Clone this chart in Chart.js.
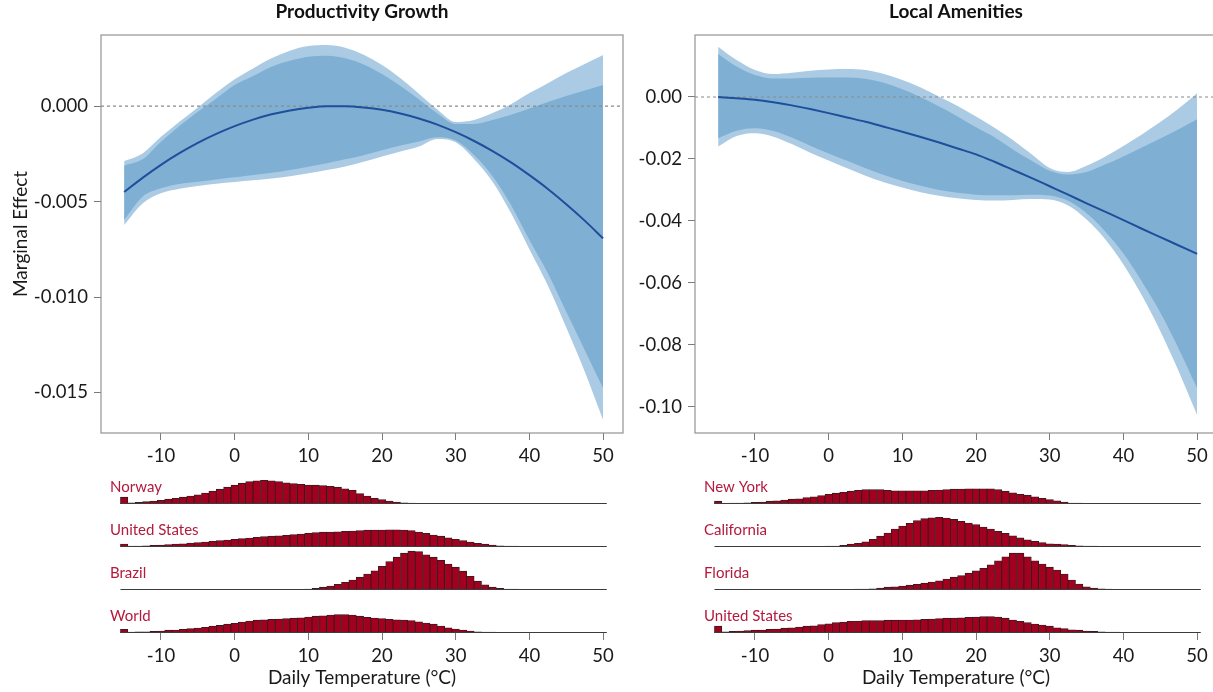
<!DOCTYPE html>
<html>
<head>
<meta charset="utf-8">
<script src="https://cdn.jsdelivr.net/npm/chart.js@4.4.1/dist/chart.umd.min.js"></script>
<style>
  html, body { margin: 0; padding: 0; background: #fff; }
  body { width: 1213px; height: 692px; overflow: hidden; position: relative; }
  canvas { position: absolute; }
</style>
</head>
<body>
<canvas id="prodMain" width="640" height="470" style="left:0;top:0"></canvas>
<canvas id="amenMain" width="634" height="470" style="left:600px;top:0"></canvas>
<canvas id="hNorway" width="640" height="42" style="left:0;top:462px"></canvas>
<canvas id="hUsLeft" width="640" height="42" style="left:0;top:505px"></canvas>
<canvas id="hBrazil" width="640" height="42" style="left:0;top:548px"></canvas>
<canvas id="hWorld" width="640" height="101" style="left:0;top:591px"></canvas>
<canvas id="hNewYork" width="634" height="42" style="left:600px;top:462px"></canvas>
<canvas id="hCalifornia" width="634" height="42" style="left:600px;top:505px"></canvas>
<canvas id="hFlorida" width="634" height="42" style="left:600px;top:548px"></canvas>
<canvas id="hUsRight" width="634" height="101" style="left:600px;top:591px"></canvas>
<script>
// temperature grid of the marginal-effect curves (°C)
const temps = [-15,-12.5,-10,-7.5,-5,-2.5,0,2.5,5,7.5,10,12.5,15,17.5,20,22.5,25,27.5,30,32.5,35,37.5,40,42.5,45,47.5,50];

// Productivity Growth
const prodMean    = [-0.0045,-0.00376,-0.00308,-0.00247,-0.00193,-0.00146,-0.00105,-0.00071,-0.00043,-0.00023,-0.00009,-0.00001,-0.00001,-0.00007,-0.00019,-0.00039,-0.00065,-0.00097,-0.00137,-0.00183,-0.00236,-0.00295,-0.00362,-0.00434,-0.00514,-0.006,-0.00693];
const prodInnerHi = [-0.00312,-0.00279,-0.00187,-0.00105,-0.0003,0.0004,0.0011,0.00157,0.00206,0.00237,0.00258,0.00263,0.0025,0.00218,0.00168,0.00105,0.00035,-0.00038,-0.00094,-0.00094,-0.00073,-0.00045,-0.00013,0.00021,0.00052,0.00081,0.0011];
const prodInnerLo = [-0.00597,-0.00475,-0.00431,-0.00408,-0.00396,-0.00384,-0.00373,-0.00361,-0.00349,-0.00335,-0.00318,-0.003,-0.00279,-0.00257,-0.00232,-0.00207,-0.00185,-0.00163,-0.0018,-0.00257,-0.00367,-0.00518,-0.00702,-0.00876,-0.01077,-0.01277,-0.01478];
const prodOuterHi = [-0.00288,-0.00248,-0.00161,-0.00082,-0.00007,0.0007,0.0014,0.00197,0.0025,0.0029,0.00314,0.00319,0.00305,0.00268,0.00215,0.00145,0.00065,-0.00018,-0.00084,-0.00073,-0.00037,0.0001,0.00068,0.0012,0.00173,0.0022,0.00267];
const prodOuterLo = [-0.00623,-0.0051,-0.00457,-0.00433,-0.00419,-0.00407,-0.00398,-0.00389,-0.0038,-0.00368,-0.00352,-0.00335,-0.00316,-0.00292,-0.00264,-0.00238,-0.00212,-0.00172,-0.0019,-0.00278,-0.00396,-0.0056,-0.0075,-0.0094,-0.0116,-0.0139,-0.01644];

// Local Amenities
const amenMean    = [0,-0.0004,-0.0009,-0.0017,-0.0027,-0.0039,-0.0052,-0.0066,-0.008,-0.0096,-0.0112,-0.0129,-0.0147,-0.0166,-0.0185,-0.0209,-0.0235,-0.0261,-0.0288,-0.0315,-0.0343,-0.037,-0.0397,-0.0425,-0.0452,-0.0479,-0.0506];
const amenInnerHi = [0.0139,0.0098,0.0071,0.006,0.006,0.0062,0.0063,0.0063,0.0059,0.0046,0.0025,-0.0001,-0.0031,-0.0063,-0.0098,-0.013,-0.0169,-0.0205,-0.0238,-0.025,-0.0242,-0.0218,-0.0192,-0.0163,-0.0134,-0.0104,-0.0072];
const amenInnerLo = [-0.0133,-0.0109,-0.0101,-0.011,-0.0131,-0.0157,-0.0182,-0.0206,-0.023,-0.0252,-0.0271,-0.0286,-0.03,-0.0309,-0.0315,-0.0317,-0.0317,-0.0315,-0.0318,-0.0335,-0.0375,-0.0433,-0.0505,-0.0595,-0.0695,-0.0812,-0.094];
const amenOuterHi = [0.0162,0.0119,0.0087,0.0074,0.0078,0.0085,0.0089,0.009,0.0087,0.0074,0.0055,0.0031,0.0001,-0.0029,-0.0063,-0.0099,-0.0139,-0.0184,-0.0229,-0.0242,-0.0222,-0.0193,-0.0158,-0.0121,-0.0081,-0.0037,0.0012];
const amenOuterLo = [-0.016,-0.0126,-0.0117,-0.0128,-0.0152,-0.018,-0.0205,-0.023,-0.0254,-0.0275,-0.0292,-0.0307,-0.0319,-0.0327,-0.0332,-0.0334,-0.0332,-0.0329,-0.0331,-0.035,-0.0395,-0.0458,-0.054,-0.064,-0.0755,-0.0885,-0.1026];

// tick labels
const xTicks = [-10,0,10,20,30,40,50];
const prodTicks = [0,-0.005,-0.01,-0.015];
const amenTicks = [0,-0.02,-0.04,-0.06,-0.08,-0.1];

// daily temperature distributions, % of days per 1°C bin
const bins = [-15,-14,-13,-12,-11,-10,-9,-8,-7,-6,-5,-4,-3,-2,-1,0,1,2,3,4,5,6,7,8,9,10,11,12,13,14,15,16,17,18,19,20,21,22,23,24,25,26,27,28,29,30,31,32,33,34,35,36,37,38,39,40,41,42,43,44,45,46,47,48,49,50];
const norway = [1.7,0.3,0.4,0.6,0.75,0.9,1.2,1.4,1.7,2.0, 2.3,2.75,3.2,3.7,4.2,4.7,5.2,5.6,5.8,5.9, 5.8,5.6,5.3,5.1,4.9,4.75,4.7,4.6,4.4,4.2, 3.8,3.4,2.6,2.0,1.4,1.1,0.75,0.5,0.3,0.2, 0.1,0.05,0.03,0,0,0,0,0,0,0, 0,0,0,0,0,0,0,0,0,0, 0,0,0,0,0,0];
const usLeft = [0.75,0.2,0.25,0.3,0.4,0.5,0.6,0.75,0.8,1.0, 1.1,1.25,1.4,1.6,1.75,1.9,2.1,2.25,2.4,2.6, 2.7,2.8,2.9,3.1,3.25,3.4,3.6,3.7,3.75,3.8, 3.9,4.0,4.1,4.2,4.25,4.25,4.3,4.3,4.25,4.1, 3.75,3.4,3.0,2.7,2.3,1.9,1.6,1.25,0.9,0.7, 0.5,0.3,0.25,0.2,0.1,0.05,0.03,0,0,0, 0,0,0,0,0,0];
const brazil = [0,0,0,0,0,0,0,0,0,0, 0,0,0,0,0,0,0,0,0,0, 0,0.03,0.05,0.1,0.15,0.25,0.4,0.7,1.0,1.4, 1.9,2.5,3.2,4.0,4.8,5.9,7.1,8.2,9.2,9.7, 9.6,8.8,8.2,7.4,6.5,5.7,4.7,3.4,2.2,1.3, 0.75,0.4,0.25,0.2,0.08,0.05,0,0,0,0, 0,0,0,0,0,0];
const world = [0.9,0.25,0.3,0.3,0.4,0.5,0.7,0.75,0.9,1.1, 1.25,1.4,1.7,1.9,2.2,2.4,2.75,3.0,3.2,3.3, 3.4,3.5,3.6,3.7,3.8,4.0,4.2,4.3,4.5,4.6, 4.6,4.5,4.2,3.9,3.75,3.6,3.4,3.3,3.25,3.1, 2.8,2.5,2.2,1.75,1.3,1.0,0.75,0.5,0.3,0.25, 0.2,0.12,0.08,0.05,0.03,0,0,0,0,0, 0,0,0,0,0,0];
const newYork = [0.7,0.08,0.2,0.25,0.3,0.4,0.5,0.7,0.8,1.0, 1.2,1.3,1.6,1.8,2.1,2.4,2.7,2.9,3.2,3.4, 3.6,3.6,3.6,3.4,3.3,3.3,3.3,3.3,3.3,3.4, 3.5,3.6,3.7,3.75,3.8,3.8,3.8,3.8,3.6,3.2, 2.8,2.4,2.2,1.8,1.4,1.1,0.8,0.5,0.25,0.2, 0.1,0.05,0.03,0,0,0,0,0,0,0, 0,0,0,0,0,0];
const california = [0,0,0,0,0,0,0,0,0,0, 0,0,0.03,0.05,0.08,0.2,0.25,0.4,0.7,0.9, 1.3,1.9,2.7,3.5,4.5,5.25,5.9,6.6,7.1,7.3, 7.4,7.25,6.9,6.4,6.0,5.6,5.0,4.5,3.9,3.4, 2.8,2.3,1.8,1.4,1.1,0.8,0.7,0.6,0.4,0.3, 0.25,0.2,0.1,0.08,0.05,0.03,0,0,0,0, 0,0,0,0,0,0];
const florida = [0,0,0,0,0,0,0,0,0,0, 0,0,0,0,0,0,0,0,0.08,0.2, 0.25,0.3,0.5,0.7,0.8,1.0,1.2,1.4,1.7,2.0, 2.3,2.75,3.2,3.6,4.2,4.8,5.4,6.3,7.3,8.3, 9.2,9.2,8.3,7.3,6.5,5.7,5.0,4.0,2.5,1.5, 0.8,0.5,0.3,0.2,0.08,0.05,0.03,0,0,0, 0,0,0,0,0,0];
const usRight = [1.7,0.3,0.4,0.5,0.6,0.7,0.75,0.9,1.0,1.2, 1.3,1.5,1.7,1.8,2.1,2.3,2.6,2.75,2.9,3.0, 3.1,3.1,3.1,3.2,3.2,3.25,3.25,3.3,3.4,3.5, 3.6,3.7,3.75,3.8,3.9,4.0,4.1,4.1,4.0,3.7, 3.25,2.9,2.6,2.25,2.0,1.7,1.3,1.1,0.8,0.7, 0.5,0.4,0.3,0.25,0.2,0.1,0.08,0.05,0.03,0, 0,0,0,0,0,0];

const X_MIN = -18.14, X_MAX = 52.7;
const OUTER = '#aacbe3', INNER = '#7fb0d4', LINE = '#1f4e9b';
const BAR = '#a1001f', LABEL = '#b31a3c';

Chart.defaults.font.family = 'Lato, "Open Sans", sans-serif';
Chart.defaults.font.size = 18.5;
Chart.defaults.color = '#1a1a1a';
Chart.defaults.animation = false;

const pts = ys => temps.map((x, i) => ({ x: x, y: ys[i] }));
const setTicks = vals => s => { s.ticks = vals.map(v => ({ value: v })); };

// grey box round the plot area
const frame = {
  id: 'frame',
  afterDraw(chart) {
    const a = chart.chartArea, g = chart.ctx;
    g.save();
    g.strokeStyle = '#939393';
    g.lineWidth = 1.2;
    g.strokeRect(a.left, a.top, a.right - a.left, a.bottom - a.top);
    g.restore();
  }
};

// thin baseline under each histogram, from first to last bar
const baseline = {
  id: 'baseline',
  afterDatasetsDraw(chart) {
    const bars = chart.getDatasetMeta(0).data;
    const first = bars[0], last = bars[bars.length - 1];
    const y = chart.scales.y.getPixelForValue(0) - 0.5;
    const g = chart.ctx;
    g.save();
    g.strokeStyle = '#3c3c3c';
    g.lineWidth = 1;
    g.beginPath();
    g.moveTo(first.x - first.width / 2, y);
    g.lineTo(last.x + last.width / 2, y);
    g.stroke();
    g.restore();
  }
};

// region name at top left of each histogram
const regionLabel = {
  id: 'regionLabel',
  afterDraw(chart, args, opts) {
    const a = chart.chartArea, g = chart.ctx;
    g.save();
    g.fillStyle = LABEL;
    g.font = '15px Lato, "Open Sans", sans-serif';
    g.textBaseline = 'middle';
    g.fillText(opts.text, a.left + 9, a.bottom - 17);
    g.restore();
  }
};

function mainChart(id, title, mean, innerHi, innerLo, outerHi, outerLo, yMin, yMax, yTicks, digits, yTitle, axisWidth) {
  return new Chart(document.getElementById(id), {
    type: 'line',
    data: {
      datasets: [
        { data: pts(mean), borderColor: LINE, borderWidth: 2, pointRadius: 0 },
        { data: [{ x: X_MIN, y: 0 }, { x: X_MAX, y: 0 }], borderColor: '#8a8a8a', borderWidth: 1.2, borderDash: [3, 3], pointRadius: 0 },
        { data: pts(innerHi), borderWidth: 0, pointRadius: 0, fill: '+1', backgroundColor: INNER },
        { data: pts(innerLo), borderWidth: 0, pointRadius: 0 },
        { data: pts(outerHi), borderWidth: 0, pointRadius: 0, fill: '+1', backgroundColor: OUTER },
        { data: pts(outerLo), borderWidth: 0, pointRadius: 0 }
      ]
    },
    options: {
      responsive: false,
      layout: { padding: { right: 17 } },
      elements: { line: { cubicInterpolationMode: 'monotone' } },
      plugins: {
        legend: { display: false },
        tooltip: { enabled: false },
        title: { display: true, text: title, fullSize: false, color: '#111', font: { size: 19, weight: 'bold' }, padding: { top: 0.6, bottom: 11.6 } }
      },
      scales: {
        x: {
          type: 'linear', min: X_MIN, max: X_MAX,
          afterBuildTicks: setTicks(xTicks),
          afterFit: s => { s.height = 37; },
          border: { display: false },
          grid: { drawOnChartArea: false, tickLength: 7, color: '#7a7a7a' },
          ticks: { padding: 5, maxRotation: 0, autoSkip: false }
        },
        y: {
          type: 'linear', min: yMin, max: yMax,
          afterBuildTicks: setTicks(yTicks),
          afterFit: s => { s.width = axisWidth; },
          border: { display: false },
          grid: { drawOnChartArea: false, tickLength: 7, color: '#7a7a7a' },
          ticks: { padding: 6, autoSkip: false, callback: v => v.toFixed(digits) },
          title: { display: !!yTitle, text: yTitle, font: { size: 19 }, padding: { top: 9, bottom: 0 } }
        }
      }
    },
    plugins: [frame]
  });
}

function histChart(id, name, values, padLeft, bottomAxis) {
  return new Chart(document.getElementById(id), {
    type: 'bar',
    data: {
      datasets: [{
        data: bins.map((b, i) => ({ x: b, y: values[i] })),
        backgroundColor: BAR, borderColor: '#2e1c1e', borderWidth: 0.8,
        barPercentage: 1, categoryPercentage: 1
      }]
    },
    options: {
      responsive: false,
      layout: { padding: { left: padLeft, right: 17 } },
      plugins: { legend: { display: false }, tooltip: { enabled: false }, regionLabel: { text: name } },
      scales: {
        x: {
          type: 'linear', min: X_MIN, max: X_MAX, offset: false, display: bottomAxis,
          afterBuildTicks: setTicks(xTicks),
          afterFit: s => { if (bottomAxis) s.height = 59; },
          border: { display: false },
          grid: { offset: false, drawOnChartArea: false, tickLength: 7, color: '#7a7a7a' },
          ticks: { padding: 5, maxRotation: 0, autoSkip: false },
          title: { display: true, text: 'Daily Temperature (°C)', font: { size: 19 }, padding: { top: 1, bottom: 2.6 } }
        },
        y: { display: false, min: 0, max: 10.5 }
      }
    },
    plugins: [baseline, regionLabel]
  });
}

mainChart('prodMain', 'Productivity Growth', prodMean, prodInnerHi, prodInnerLo, prodOuterHi, prodOuterLo,
  -0.01712, 0.00372, prodTicks, 3, 'Marginal Effect', 101);
mainChart('amenMain', 'Local Amenities', amenMean, amenInnerHi, amenInnerLo, amenOuterHi, amenOuterLo,
  -0.1084, 0.02, amenTicks, 2, '', 95);

histChart('hNorway', 'Norway', norway, 101, false);
histChart('hUsLeft', 'United States', usLeft, 101, false);
histChart('hBrazil', 'Brazil', brazil, 101, false);
histChart('hWorld', 'World', world, 101, true);
histChart('hNewYork', 'New York', newYork, 95, false);
histChart('hCalifornia', 'California', california, 95, false);
histChart('hFlorida', 'Florida', florida, 95, false);
histChart('hUsRight', 'United States', usRight, 95, true);
</script>
</body>
</html>
